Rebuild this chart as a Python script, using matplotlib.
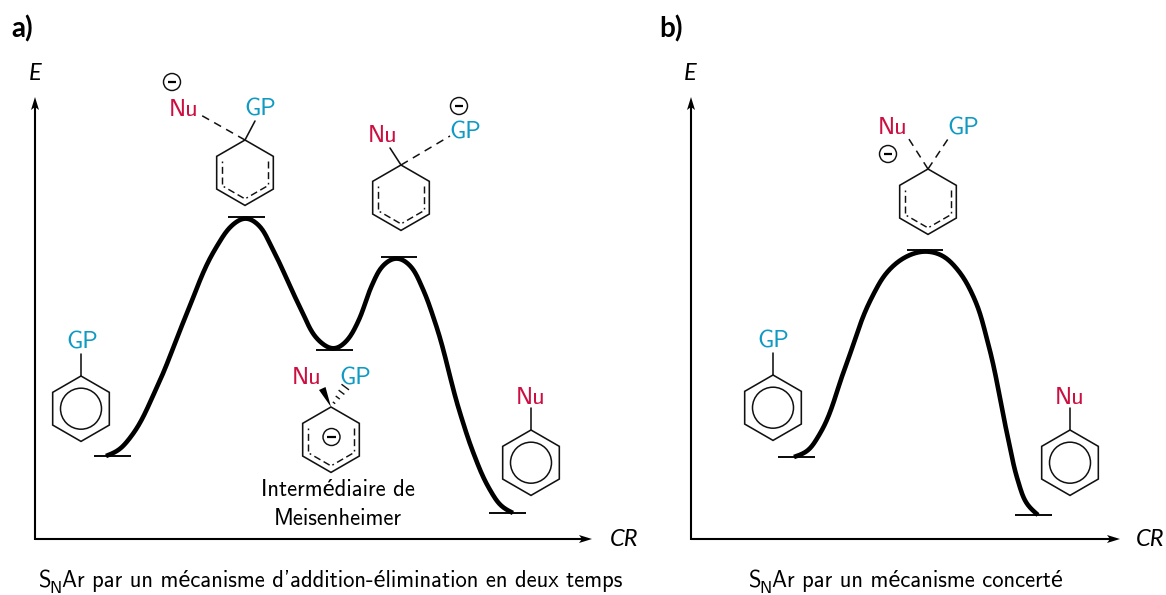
import warnings
import numpy as np
import matplotlib
matplotlib.use("Agg")
import matplotlib.pyplot as plt
from matplotlib.path import Path
from matplotlib.patches import Circle, Polygon

RED = "#CC0F40"
BLUE = "#0F9AC4"
SANS = ["cmss10", "Lato"]

# energy profiles (pixel reading of the reference: reaction coordinate, energy)
curve_a_x = [106,118,130,157,185,217,232,246,258,272,300,320,334,346,358,372,384,397,409,422,435,460,473,490,503,513]
curve_a_y = [456,451,438,387,318,246,225,217,224,248,307,342,350,342,322,285,264,257,264,287,322,413,452,490,508,513]
curve_b_x = [794,807,818,845,872,887,905,925,942,958,975,988,1008,1018,1028,1038]
curve_b_y = [457,452,437,368,297,272,257,251,255,270,300,343,438,481,506,515]

# energy levels: (x start, x end, energy)
levels_a = [(94,131,456),(228,265,217),(316,353,350),(381,417,257),(489,526,513)]
levels_b = [(778,815,457),(907,943,250),(1015,1052,515)]

fig = plt.figure(figsize=(11.66, 5.95), dpi=100)
ax = fig.add_axes([0, 0, 1, 1])
ax.set_xlim(0, 1166); ax.set_ylim(595, 0); ax.axis("off")

def smooth(xs, ys, lw=3.3, sigma=6.0):
    # draws the read points as one soft stroke (line smoothing only)
    P = np.column_stack([xs, ys]).astype(float)
    d = np.hypot(*np.diff(P, axis=0).T)
    s = np.diff(P, axis=0)/d[:, None]
    m = np.zeros_like(P)
    m[0] = s[0]; m[-1] = s[-1]
    for i in range(1, len(P)-1):
        m[i] = (s[i-1]*d[i]+s[i]*d[i-1])/(d[i-1]+d[i])
    t = np.linspace(0, 1, 12)[:, None]
    pts = [P[:1]]
    for i in range(len(P)-1):
        h = d[i]
        a, b, c, e = P[i], P[i]+m[i]*h/3, P[i+1]-m[i+1]*h/3, P[i+1]
        pts.append((1-t)**3*a+3*(1-t)**2*t*b+3*(1-t)*t**2*c+t**3*e)
    Q = np.vstack(pts)
    arc = np.r_[0, np.cumsum(np.hypot(*np.diff(Q, axis=0).T))]
    keep = np.r_[True, np.diff(arc) > 1e-9]
    Q, arc = Q[keep], arc[keep]
    u = np.arange(0, arc[-1], 1.0)
    X = np.interp(u, arc, Q[:, 0]); Y = np.interp(u, arc, Q[:, 1])
    n = int(4*sigma)
    k = np.exp(-np.arange(-n, n+1)**2/(2*sigma**2)); k /= k.sum()
    def blur(v):
        pad = np.r_[2*v[0]-v[n:0:-1], v, 2*v[-1]-v[-2:-n-2:-1]]
        return np.convolve(pad, k, mode="valid")
    ax.plot(blur(X), blur(Y), color="k", lw=lw, solid_capstyle="butt", solid_joinstyle="round", zorder=3)

def line(p, q, lw=1.15):
    ax.plot([p[0], q[0]], [p[1], q[1]], color="#111111", lw=lw, solid_capstyle="round")

def dashed(p, q, lw=1.1):
    ax.plot([p[0], q[0]], [p[1], q[1]], color="#111111", lw=lw, dashes=(5.2, 3.8), dash_capstyle="butt")

R = 32.7
def hexverts(cx, cy, r):
    a = np.radians(np.arange(-90, 270, 60))
    return np.column_stack([cx+r*np.cos(a), cy+r*np.sin(a)])

def ring(top_x, top_y, kind):
    cx, cy = top_x, top_y+R
    ax.add_patch(Polygon(hexverts(cx, cy, R), closed=True, fc="none", ec="#111111", lw=1.15))
    if kind == "aromatic":
        ax.add_patch(Circle((cx, cy), 20.5, fc="none", ec="#111111", lw=1.1))
    else:
        v = hexverts(cx, cy, R-6.5)
        for i, j in [(1,2),(2,3),(3,4),(4,5)]:
            d = v[j]-v[i]
            ax.plot([v[i][0]+d[0]*.06, v[j][0]-d[0]*.06], [v[i][1]+d[1]*.06, v[j][1]-d[1]*.06],
                    color="#111111", lw=1.05, dashes=(4.8, 2.5), dash_capstyle="butt")

def label(x, y, s, color="k", size=17.5, **kw):
    ax.text(x, y, s, color=color, fontsize=size, family=kw.pop("family", SANS), ha="center", va="center", **kw)

def minus(x, y):
    ax.add_patch(Circle((x, y), 8.5, fc="white", ec="#111111", lw=1.05, zorder=4))
    ax.plot([x-4.3, x+4.3], [y, y], color="k", lw=1.6, solid_capstyle="butt", zorder=5)

def axes_arrows(x0, y0, xend, ytop):
    ax.plot([x0, xend-6], [y0, y0], color="k", lw=1.5, solid_capstyle="butt")
    ax.plot([x0, x0], [y0+.7, ytop+6], color="k", lw=1.5, solid_capstyle="butt")
    ax.add_patch(Polygon([(xend, y0), (xend-13, y0-4), (xend-10, y0), (xend-13, y0+4)], fc="k", ec="none"))
    ax.add_patch(Polygon([(x0, ytop), (x0-4, ytop+13), (x0, ytop+10), (x0+4, ytop+13)], fc="k", ec="none"))

axes_arrows(35, 539, 592, 97)
axes_arrows(691, 539, 1120, 97)

for xa, xb, e in levels_a + levels_b:
    ax.plot([xa, xb], [e, e], color="k", lw=1.35, solid_capstyle="butt")
smooth(curve_a_x, curve_a_y)
smooth(curve_b_x, curve_b_y)

# panel a: reactant
ring(81, 376, "aromatic"); line((81, 376), (81, 354)); label(82, 342.5, "GP", BLUE)
# TS1
ring(245, 140, "dash"); dashed((245, 140), (199, 114)); line((245, 140), (255, 121))
label(184, 110.5, "Nu", RED); label(260, 109.5, "GP", BLUE); minus(172, 82)
# TS2
ring(401, 165, "dash"); dashed((401, 165), (450, 136)); line((401, 165), (390, 148))
label(383, 136.5, "Nu", RED); label(465, 132.5, "GP", BLUE); minus(459, 106)
# Meisenheimer
ring(331, 407, "dash"); minus(331.5, 437)
ax.add_patch(Polygon([(331, 407), (319, 390), (325.5, 387)], fc="k", ec="none"))
for t, w in zip(np.linspace(.2, .95, 4), np.linspace(.8, 4, 4)):
    c = np.array([331, 407])+t*np.array([15, -21])
    ax.plot([c[0]-w*.8, c[0]+w*.8], [c[1]-w*.6, c[1]+w*.6], color="#111111", lw=1.0)
label(307, 378.5, "Nu", RED); label(355, 378.5, "GP", BLUE)
label(338, 490, "Intermédiaire de", size=16.3); label(338, 519, "Meisenheimer", size=16.3)
# product
ring(531, 430, "aromatic"); line((531, 430), (531, 408)); label(531, 398.5, "Nu", RED)

# panel b
ring(773, 375, "aromatic"); line((773, 375), (773, 353)); label(773, 341.5, "GP", BLUE)
ring(928, 169, "dash"); dashed((928, 169), (907, 136)); dashed((928, 169), (950, 136))
label(893, 128.5, "Nu", RED); label(963, 128.5, "GP", BLUE); minus(888, 154)
ring(1070, 430, "aromatic"); line((1070, 430), (1070, 408)); label(1070, 397.5, "Nu", RED)

# axis names and titles
for x, y, s in [(35, 73, "E"), (690, 73, "E"), (624, 540, "CR"), (1150, 540, "CR")]:
    label(x, y, s, family="Lato", style="italic", size=17)
label(22, 29, "a)", family="Lato", weight="bold", size=20)
label(671, 29, "b)", family="Lato", weight="bold", size=20)

def caption(x, y, s):
    ax.text(x, y, "S", fontsize=16.25, family=SANS, ha="left", va="baseline", color="k")
    ax.text(x+11, y+6, "N", fontsize=12.5, family=SANS, ha="left", va="baseline", color="k")
    ax.text(x+24, y, s, fontsize=16.25, family=SANS, ha="left", va="baseline", color="k")
caption(38, 587, "Ar par un mécanisme d'addition-élimination en deux temps")
caption(748, 587, "Ar par un mécanisme concerté")

with warnings.catch_warnings():
    warnings.simplefilter("ignore")
    fig.savefig("out.png", dpi=100)
